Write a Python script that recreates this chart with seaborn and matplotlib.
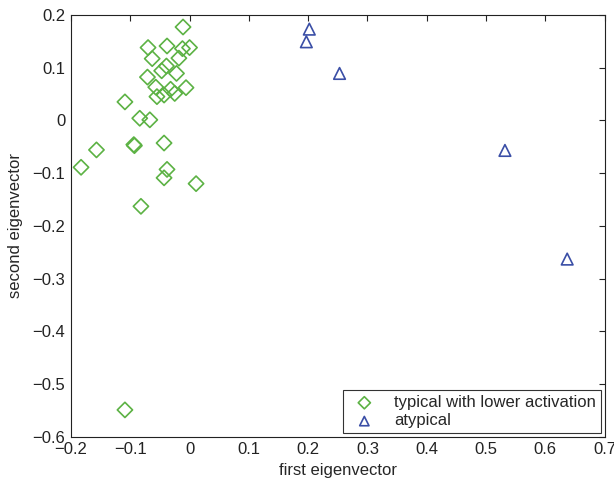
import matplotlib
matplotlib.use("Agg")
import matplotlib.pyplot as plt
import seaborn as sns
import pandas as pd

# first / second eigenvector coordinates
typical_x = [-0.011, -0.070, -0.038, -0.012, 0.000, -0.063, -0.039, -0.047, -0.018, -0.022,
             -0.071, -0.057, -0.055, -0.043, -0.032, -0.025, -0.006, -0.109, -0.084, -0.067,
             -0.094, -0.093, -0.043, -0.157, -0.183, -0.038, -0.043, 0.011, -0.082, -0.109]
typical_y = [0.177, 0.138, 0.141, 0.136, 0.138, 0.117, 0.103, 0.094, 0.118, 0.089,
             0.082, 0.063, 0.045, 0.048, 0.059, 0.051, 0.062, 0.035, 0.004, 0.001,
             -0.046, -0.048, -0.043, -0.056, -0.089, -0.093, -0.109, -0.120, -0.163, -0.549]

atypical_x = [0.202, 0.197, 0.253, 0.532, 0.637]
atypical_y = [0.173, 0.149, 0.089, -0.057, -0.263]

labels = ["typical with lower activation", "atypical"]
colors = ["#5cb244", "#3a4ea6"]
markers = ["D", "^"]

df = pd.concat([
    pd.DataFrame({"x": typical_x, "y": typical_y, "group": labels[0]}),
    pd.DataFrame({"x": atypical_x, "y": atypical_y, "group": labels[1]}),
])

sns.set_style("white")
plt.rcParams["font.family"] = ["Liberation Sans", "DejaVu Sans"]
plt.rcParams["font.size"] = 12

fig = plt.figure(figsize=(6.14, 4.8), dpi=100)
ax = fig.add_axes([0.1156, 0.090, 0.869, 0.879])

for lab, col, mk in zip(labels, colors, markers):
    sub = df[df["group"] == lab]
    sns.scatterplot(data=sub, x="x", y="y", ax=ax, marker=mk, s=60 if mk == "D" else 70,
                    facecolor="none", edgecolor=col, linewidth=1.2, label=lab)

ax.set_xlim(-0.2, 0.7)
ax.set_ylim(-0.6, 0.2)
ax.set_xticks([-0.2, -0.1, 0, 0.1, 0.2, 0.3, 0.4, 0.5, 0.6, 0.7])
ax.set_yticks([-0.6, -0.5, -0.4, -0.3, -0.2, -0.1, 0, 0.1, 0.2])
ax.set_xticklabels(["\u22120.2", "\u22120.1", "0", "0.1", "0.2", "0.3", "0.4", "0.5", "0.6", "0.7"])
ax.set_yticklabels(["\u22120.6", "\u22120.5", "\u22120.4", "\u22120.3", "\u22120.2", "\u22120.1", "0", "0.1", "0.2"])
ax.tick_params(direction="in", length=4, width=0.8, top=True, right=True, labelsize=12,
               colors="#222222", pad=4)
for sp in ax.spines.values():
    sp.set_color("#222222")
    sp.set_linewidth(0.8)

ax.set_xlabel("first eigenvector", fontsize=12, labelpad=4)
ax.set_ylabel("second eigenvector", fontsize=12, labelpad=7)

leg = ax.legend(loc="lower right", fancybox=False, frameon=True, fontsize=12,
                borderaxespad=0.2, handletextpad=0.8, borderpad=0.3, labelspacing=0.2,
                markerscale=0.8)
leg.get_frame().set_edgecolor("black")
leg.get_frame().set_linewidth(0.8)

fig.savefig("out.png", dpi=100)
